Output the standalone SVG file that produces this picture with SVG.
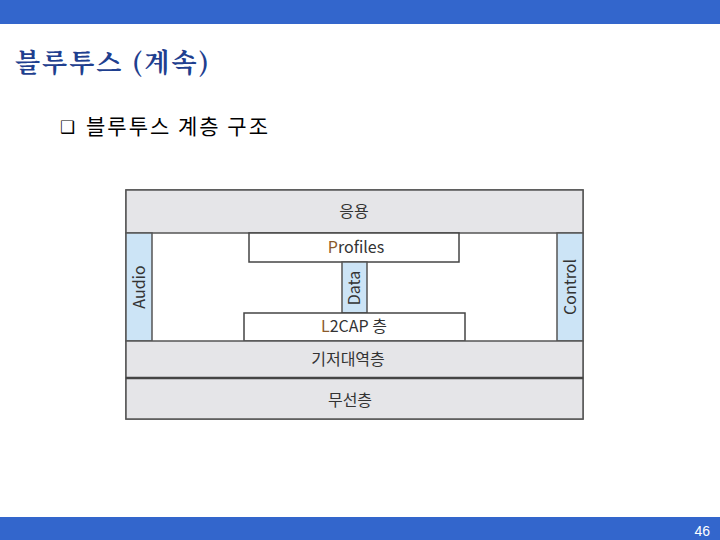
<svg xmlns="http://www.w3.org/2000/svg" width="720" height="540" viewBox="0 0 720 540">
<style>
.band{fill:#e5e5e8;stroke:#555;stroke-width:1.5}
.col{fill:#cce4f6;stroke:#555;stroke-width:1.5}
.box{fill:#fff;stroke:#444;stroke-width:1.5}
.lbl{font-family:"Noto Sans CJK KR","Noto Sans",sans-serif;font-size:16px;fill:#333;text-anchor:middle}
.hi{fill:#8a5a2b}
</style>
<rect x="0" y="0" width="720" height="24" fill="#3366cc"/>
<rect x="0" y="517" width="720" height="23" fill="#3366cc"/>
<text x="15" y="72" font-family="'Noto Serif CJK KR','Noto Sans CJK KR',serif" font-size="26" font-weight="bold" letter-spacing="2" fill="#1f3f8f">블루투스 (계속)</text>
<text x="60" y="133" font-family="'DejaVu Sans',sans-serif" font-size="17" fill="#000">❑</text>
<text x="86" y="134" font-family="'Noto Sans CJK KR',sans-serif" font-size="21" letter-spacing="2" fill="#000">블루투스 계층 구조</text>
<g id="outer"><rect x="126" y="190" width="457" height="229" fill="#fff" stroke="#555" stroke-width="1.5"/></g>
<g id="app"><rect class="band" x="126" y="190" width="457" height="43"/><text class="lbl" x="354" y="217">응용</text></g>
<g id="audio"><rect class="col" x="126" y="233" width="26" height="108"/><text class="lbl" transform="translate(145,287) rotate(-90)">Audio</text></g>
<g id="control"><rect class="col" x="557" y="233" width="26" height="108"/><text class="lbl" transform="translate(576,287) rotate(-90)">Control</text></g>
<g id="profiles"><rect class="box" x="249" y="233" width="210" height="29"/><text class="lbl" x="356" y="253"><tspan class="hi">P</tspan>rofiles</text></g>
<g id="data"><rect class="col" x="342" y="262" width="25" height="51"/><text class="lbl" transform="translate(360,288) rotate(-90)">Data</text></g>
<g id="l2cap"><rect class="box" x="244" y="313" width="221" height="28"/><text class="lbl" x="354" y="332"><tspan class="hi">L</tspan>2CAP 층</text></g>
<g id="baseband"><rect class="band" x="126" y="341" width="457" height="37"/><text class="lbl" x="348" y="365">기저대역층</text></g>
<g id="radio"><rect class="band" x="126" y="378" width="457" height="41"/><text class="lbl" x="350" y="406">무선층</text></g>
<g id="connectors"><line x1="126" y1="378" x2="583" y2="378" stroke="#444" stroke-width="2.5"/></g>
<text x="710" y="536" font-family="'Liberation Sans',sans-serif" font-size="14" fill="#fff" text-anchor="end">46</text>
</svg>
